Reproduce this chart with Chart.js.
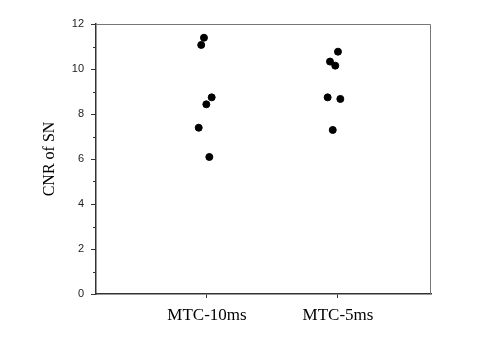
<!DOCTYPE html>
<html>
<head>
<meta charset="utf-8">
<script src="https://cdn.jsdelivr.net/npm/chart.js@4.4.1/dist/chart.umd.min.js"></script>
<style>
  html, body { margin: 0; padding: 0; background: #fff; }
  #wrap { width: 486px; height: 345px; }
</style>
</head>
<body>
<div id="wrap"><canvas id="mycanvas" width="486" height="345"></canvas></div>
<script>
// categories and their x position on the axis
var groups = ['MTC-10ms', 'MTC-5ms'];
var groupPos = [1, 2];

// CNR values
var cnr10 = [11.39, 11.07, 8.74, 8.43, 7.39, 6.09];
var cnr5 = [10.77, 10.33, 10.15, 8.74, 8.67, 7.29];

// horizontal scatter of each dot around its group
var jitter10 = [-0.023, -0.044, 0.036, -0.005, -0.063, 0.018];
var jitter5 = [0.0, -0.061, -0.021, -0.079, 0.018, -0.040];

var yTicks = [0, 2, 4, 6, 8, 10, 12];
var yMinor = [1, 3, 5, 7, 9, 11];

function toPoints(vals, jit, pos) {
  var pts = [];
  for (var i = 0; i < vals.length; i++) {
    pts.push({ x: pos + jit[i], y: vals[i] });
  }
  return pts;
}

//frame on top/right plus minor ticks on the y axis
var framePlugin = {
  id: 'frame',
  afterDraw: function(chart) {
    var c = chart.ctx, a = chart.chartArea;
    var y = chart.scales.y;
    c.save();
    c.strokeStyle = '#777';
    c.lineWidth = 1;
    c.beginPath();
    c.moveTo(a.left, a.top + 0.5);
    c.lineTo(a.right - 0.5, a.top + 0.5);
    c.lineTo(a.right - 0.5, a.bottom);
    c.stroke();
    c.strokeStyle = '#333';
    c.beginPath();
    for (var i = 0; i < yMinor.length; i++) {
      var py = Math.round(y.getPixelForValue(yMinor[i])) + 0.5;
      c.moveTo(a.left - 3, py);
      c.lineTo(a.left, py);
    }
    c.stroke();
    c.restore();
  }
};

var ctx = document.getElementById('mycanvas').getContext('2d');
var mychart = new Chart(ctx, {
  type: 'scatter',
  data: {
    datasets: [
      {
        label: groups[0],
        data: toPoints(cnr10, jitter10, groupPos[0]),
        backgroundColor: '#000',
        borderColor: '#000',
        pointRadius: 3.5
      },
      {
        label: groups[1],
        data: toPoints(cnr5, jitter5, groupPos[1]),
        backgroundColor: '#000',
        borderColor: '#000',
        pointRadius: 3.5
      }
    ]
  },
  options: {
    responsive: false,
    animation: false,
    layout: { padding: { top: 24, right: 55, left: 0, bottom: 0 } },
    plugins: {
      legend: { display: false },
      tooltip: { enabled: false }
    },
    scales: {
      x: {
        type: 'linear',
        min: 0.153,
        max: 2.71,
        afterBuildTicks: function(scale) {
          scale.ticks = groupPos.map(function(v) { return { value: v }; });
        },
        afterFit: function(scale) { scale.height = 51; },
        ticks: {
          autoSkip: false,
          maxRotation: 0,
          padding: 7,
          color: '#000',
          font: { family: 'Liberation Serif', size: 17 },
          callback: function(v) {
            var i = groupPos.indexOf(v);
            return i >= 0 ? groups[i] : '';
          }
        },
        grid: { drawOnChartArea: false, tickLength: 4, tickColor: '#333' },
        border: { color: '#333', width: 1.5 }
      },
      y: {
        min: 0,
        max: 12,
        afterBuildTicks: function(scale) {
          scale.ticks = yTicks.map(function(v) { return { value: v }; });
        },
        afterFit: function(scale) { scale.width = 96; },
        ticks: {
          padding: 7,
          color: '#222',
          font: { family: 'Liberation Sans', size: 11 }
        },
        grid: { drawOnChartArea: false, tickLength: 5, tickColor: '#333' },
        border: { color: '#333', width: 1.5 },
        title: {
          display: true,
          text: 'CNR of SN',
          color: '#000',
          font: { family: 'Liberation Serif', size: 16 },
          padding: { top: 40, bottom: 0 }
        }
      }
    }
  },
  plugins: [framePlugin]
});
</script>
</body>
</html>
